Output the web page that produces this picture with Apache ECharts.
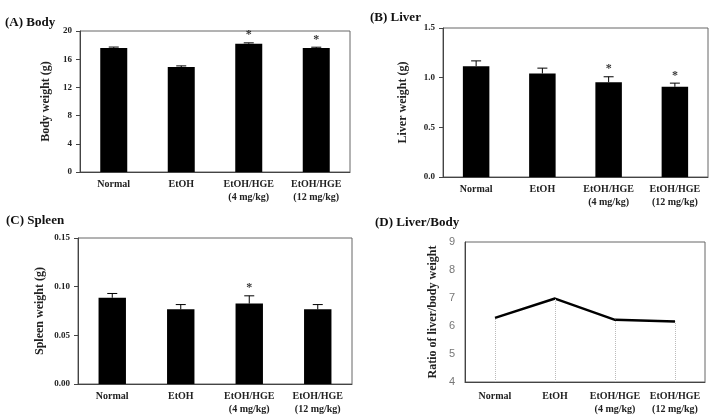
<!DOCTYPE html>
<html>
<head>
<meta charset="utf-8">
<script src="https://cdn.jsdelivr.net/npm/echarts@6/dist/echarts.min.js"></script>
<style>
html,body{margin:0;padding:0;background:#fff;}
#main{width:723px;height:416px;}
</style>
</head>
<body>
<div id="main"></div>
<script>
var categories = ['Normal', 'EtOH', 'EtOH/HGE\n(4 mg/kg)', 'EtOH/HGE\n(12 mg/kg)'];

var bodyMean = [17.6, 14.9, 18.2, 17.6];
var bodyErr = [0.12, 0.15, 0.12, 0.1];
var bodySig = [false, false, true, true];

var liverMean = [1.115, 1.042, 0.955, 0.908];
var liverErr = [0.054, 0.054, 0.054, 0.037];
var liverSig = [false, false, true, true];

var spleenMean = [0.0886, 0.0767, 0.0826, 0.0767];
var spleenErr = [0.0044, 0.0049, 0.008, 0.0049];
var spleenSig = [false, false, true, false];

var ratio = [6.29, 6.98, 6.22, 6.16];

var serif = '"Liberation Serif", "DejaVu Serif", serif';
var myChart = echarts.init(document.getElementById('main'));

function errData(mean, err) {
  return mean.map(function (m, i) { return [i, m, err[i]]; });
}
function starData(mean, err, sig) {
  var out = [];
  sig.forEach(function (s, i) { if (s) out.push([i, mean[i] + err[i]]); });
  return out;
}
function errSeries(idx, mean, err) {
  return {
    type: 'custom', xAxisIndex: idx, yAxisIndex: idx, z: 3,
    data: errData(mean, err),
    renderItem: function (params, api) {
      var x = api.value(0), m = api.value(1), e = api.value(2);
      var p0 = api.coord([x, m]);
      var p1 = api.coord([x, m + e]);
      var st = { stroke: '#000', lineWidth: 1 };
      return {
        type: 'group', children: [
          { type: 'line', shape: { x1: p0[0], y1: p0[1], x2: p1[0], y2: p1[1] }, style: st },
          { type: 'line', shape: { x1: p1[0] - 5, y1: p1[1], x2: p1[0] + 5, y2: p1[1] }, style: st }
        ]
      };
    }
  };
}
function starSeries(idx, mean, err, sig) {
  return {
    type: 'scatter', xAxisIndex: idx, yAxisIndex: idx, symbolSize: 1,
    itemStyle: { color: 'rgba(0,0,0,0)' },
    data: starData(mean, err, sig),
    label: { show: true, position: 'top', distance: 1, formatter: '*', color: '#000', fontFamily: serif, fontWeight: 'bold', fontSize: 12 }
  };
}
function xAx(idx) {
  return {
    type: 'category', gridIndex: idx, data: categories,
    axisLine: { lineStyle: { color: '#444' } },
    axisTick: { show: false },
    axisLabel: { color: '#222', fontFamily: serif, fontWeight: 'bold', fontSize: 10, lineHeight: 13, margin: idx === 3 ? 8 : 6, interval: 0 }
  };
}
function yAx(idx, min, max, interval, name, gap, dec) {
  return {
    type: 'value', gridIndex: idx, min: min, max: max, interval: interval,
    name: name, nameLocation: 'middle', nameGap: gap, nameRotate: 90,
    nameTextStyle: { color: '#222', fontFamily: serif, fontWeight: 'bold', fontSize: 12 },
    axisLine: { show: true, lineStyle: { color: '#444' } },
    axisTick: { show: idx !== 3, length: 4, lineStyle: { color: '#444' } },
    splitLine: { show: false },
    axisLabel: idx === 3
      ? { color: '#777', fontFamily: '"Liberation Sans", sans-serif', fontSize: 11, margin: 10 }
      : { color: '#222', fontFamily: serif, fontWeight: 'bold', fontSize: 9, margin: 8,
          formatter: function (v) { return v.toFixed(dec); } }
  };
}
function titleAt(text, left, top) {
  return { text: text, left: left, top: top,
    textStyle: { fontFamily: serif, fontWeight: 'bold', fontSize: 13, color: '#111' } };
}

var gridBase = { show: true, borderColor: '#666', borderWidth: 1, backgroundColor: '#fff' };

var option = {
  animation: false,
  title: [
    titleAt('(A) Body', 0, 11),
    titleAt('(B) Liver', 365, 6),
    titleAt('(C) Spleen', 1, 209),
    titleAt('(D) Liver/Body', 370, 211)
  ],
  grid: [
    Object.assign({ left: 80, top: 31, width: 270, height: 141 }, gridBase),
    Object.assign({ left: 443, top: 28, width: 265, height: 149 }, gridBase),
    Object.assign({ left: 78, top: 238, width: 274, height: 151 }, gridBase),
    Object.assign({ left: 465, top: 242, width: 240, height: 141 }, gridBase)
  ],
  xAxis: [xAx(0), xAx(1), xAx(2), xAx(3)],
  yAxis: [
    yAx(0, 0, 20, 4, 'Body weight (g)', 28, 0),
    yAx(1, 0, 1.5, 0.5, 'Liver weight (g)', 34, 1),
    yAx(2, 0, 0.15, 0.05, 'Spleen weight (g)', 32, 2),
    yAx(3, 4, 9, 1, 'Ratio of liver/body weight', 26, 0)
  ],
  series: [
    { type: 'bar', xAxisIndex: 0, yAxisIndex: 0, data: bodyMean, barWidth: '40%', itemStyle: { color: '#000' } },
    errSeries(0, bodyMean, bodyErr),
    starSeries(0, bodyMean, bodyErr, bodySig),
    { type: 'bar', xAxisIndex: 1, yAxisIndex: 1, data: liverMean, barWidth: '40%', itemStyle: { color: '#000' } },
    errSeries(1, liverMean, liverErr),
    starSeries(1, liverMean, liverErr, liverSig),
    { type: 'bar', xAxisIndex: 2, yAxisIndex: 2, data: spleenMean, barWidth: '40%', itemStyle: { color: '#000' } },
    errSeries(2, spleenMean, spleenErr),
    starSeries(2, spleenMean, spleenErr, spleenSig),
    {
      type: 'line', xAxisIndex: 3, yAxisIndex: 3, data: ratio,
      showSymbol: false, lineStyle: { color: '#000', width: 2.5 },
      markLine: {
        silent: true, symbol: 'none', label: { show: false },
        lineStyle: { color: '#bbb', type: 'dotted', width: 1 },
        data: ratio.map(function (v, i) {
          return [{ coord: [categories[i], 4] }, { coord: [categories[i], v] }];
        })
      }
    }
  ]
};
myChart.setOption(option);
</script>
</body>
</html>
